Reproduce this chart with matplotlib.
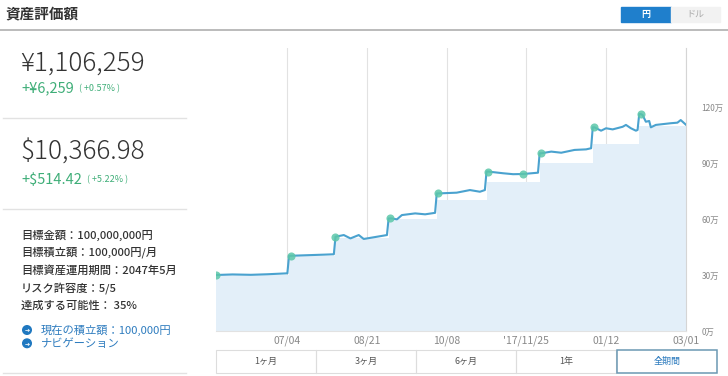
import numpy as np
import pandas as pd
import matplotlib
matplotlib.use("Agg")
import matplotlib.pyplot as plt
import matplotlib.dates as mdates
from matplotlib.patches import Rectangle, Circle

plt.rcParams['font.family'] = ['Noto Sans CJK JP', 'DejaVu Sans']

# valuation line (万円)
line_dates = ['2017-05-22', '2017-06-01', '2017-06-12', '2017-06-22', '2017-07-04',
              '2017-07-05', '2017-07-06', '2017-07-16', '2017-07-26', '2017-08-01',
              '2017-08-02', '2017-08-07', '2017-08-11', '2017-08-16', '2017-08-19',
              '2017-08-25', '2017-09-02', '2017-09-03', '2017-09-05', '2017-09-08',
              '2017-09-11', '2017-09-19', '2017-09-25', '2017-10-01', '2017-10-02',
              '2017-10-03', '2017-10-14', '2017-10-22', '2017-10-28', '2017-10-31',
              '2017-11-01', '2017-11-02', '2017-11-11', '2017-11-17', '2017-11-23',
              '2017-12-02', '2017-12-03', '2017-12-04', '2017-12-10', '2017-12-16',
              '2017-12-24', '2017-12-31', '2018-01-03', '2018-01-04', '2018-01-05',
              '2018-01-09', '2018-01-12', '2018-01-16', '2018-01-22', '2018-01-24',
              '2018-01-27', '2018-01-30', '2018-01-31', '2018-02-01', '2018-02-02',
              '2018-02-03', '2018-02-05', '2018-02-07', '2018-02-08', '2018-02-11',
              '2018-02-16', '2018-02-20', '2018-02-24', '2018-02-26', '2018-03-01']
line_values = [30.0, 30.3, 30.1, 30.4, 30.9,
               40.3, 40.3, 40.6, 40.9, 41.1,
               50.5, 51.4, 49.6, 51.4, 49.3,
               50.2, 51.4, 60.3, 60.3, 59.8,
               62.1, 63.0, 62.5, 63.3, 73.7,
               73.7, 74.1, 75.5, 74.6, 75.5,
               85.4, 85.4, 84.5, 84.0, 84.1,
               84.8, 95.2, 95.2, 96.1, 95.5,
               97.0, 97.3, 97.9, 109.1, 109.1,
               107.3, 108.6, 108.0, 109.4, 110.4,
               108.6, 107.3, 107.7, 116.2, 116.2,
               115.7, 112.1, 112.5, 109.1, 110.4,
               110.9, 111.3, 111.6, 113.0, 110.6]

# cumulative contributions (万円)
step_dates = ['2017-05-22', '2017-07-05', '2017-08-02', '2017-09-03', '2017-10-02',
              '2017-11-01', '2017-12-03', '2018-01-04', '2018-02-01', '2018-03-01']
step_values = [30, 40, 50, 60, 70, 80, 90, 100, 110, 110]

# event markers
mark_dates = ['2017-05-22', '2017-07-06', '2017-08-02', '2017-09-04', '2017-10-03',
              '2017-11-02', '2017-11-23', '2017-12-04', '2018-01-05', '2018-02-02']
mark_values = [30.0, 40.3, 50.5, 60.3, 73.7, 85.4, 84.1, 95.2, 109.1, 116.2]

tick_dates = ['2017-07-04', '2017-08-21', '2017-10-08', '2017-11-25', '2018-01-12', '2018-03-01']
tick_labels = ['07/04', '08/21', '10/08', "'17/11/25", '01/12', '03/01']
ytick_values = [0, 30, 60, 90, 120]
ytick_labels = ['0万', '30万', '60万', '90万', '120万']

info_lines = ['目標金額：100,000,000円', '目標積立額：100,000円/月',
              '目標資産運用期間：2047年5月', 'リスク許容度：5/5', '達成する可能性： 35%']
link_lines = ['現在の積立額：100,000円', 'ナビゲーション']
period_buttons = ['1ヶ月', '3ヶ月', '6ヶ月', '1年', '全期間']

W, H = 728, 376
fig = plt.figure(figsize=(W / 100, H / 100), dpi=100)

# overlay for the page elements, pixel coordinates
ui = fig.add_axes([0, 0, 1, 1])
ui.set_xlim(0, W)
ui.set_ylim(H, 0)
ui.axis('off')

dark = '#333333'
green = '#3fae78'
ui.text(5, 13, '資産評価額', fontsize=10.5, fontweight='bold', color=dark, va='center')
ui.plot([0, W], [29.7, 29.7], color='#b5b5b5', lw=1.3)

ui.add_patch(Rectangle((621, 6.5), 50, 15.5, color='#1f7fcc'))
ui.add_patch(Rectangle((671, 6.5), 49, 15.5, color='#f2f2f2'))
ui.text(646, 14.3, '円', color='white', fontsize=6.5, fontweight='bold', ha='center', va='center')
ui.text(695.5, 14.3, 'ドル', color='#aaaaaa', fontsize=6.5, ha='center', va='center')

ui.text(20, 63, '¥1,106,259', fontsize=18.8, color=dark, va='center', fontweight='light')
ui.text(21, 88.5, '+¥6,259', fontsize=10.5, color=green, va='center')
ui.text(79, 89, '( +0.57% )', fontsize=6.5, color=green, va='center')
ui.plot([3, 186], [118.3, 118.3], color='#e2e2e2', lw=1)

ui.text(20, 152, '$10,366.98', fontsize=18.8, color=dark, va='center', fontweight='light')
ui.text(21, 179.5, '+$514.42', fontsize=10.5, color=green, va='center')
ui.text(87, 180, '( +5.22% )', fontsize=6.5, color=green, va='center')
ui.plot([3, 186], [208.5, 208.5], color='#e2e2e2', lw=1)

for i, s in enumerate(info_lines):
    ui.text(21, 235 + i * 17.6, s, fontsize=8.1, color=dark, va='center', fontweight='medium')
for i, s in enumerate(link_lines):
    y = 330 + i * 13.3
    ui.add_patch(Circle((27, y), 4.3, color='#1f78c0'))
    ui.text(27.3, y, '➔', fontsize=4.5, color='white', ha='center', va='center',
            family='DejaVu Sans', fontweight='bold')
    ui.text(40.5, y, s, fontsize=8.1, color='#2e7cbf', va='center')
ui.plot([3, 186], [373, 373], color='#e2e2e2', lw=1)

bx = [216, 316, 416, 516, 617]
for i, s in enumerate(period_buttons):
    sel = i == len(period_buttons) - 1
    ui.add_patch(Rectangle((bx[i], 349.5), 100, 23.5, fill=False,
                           ec='#6b98b3' if sel else '#dddddd', lw=1.1 if sel else 0.8))
    ui.text(bx[i] + 50, 361.5, s, fontsize=6.5, color='#2e7cbf' if sel else '#555555',
            ha='center', va='center')

# main chart
ax = fig.add_axes([216 / W, (H - 331) / H, (685.7 - 216) / W, (331 - 48) / H])
ld = pd.to_datetime(line_dates)
sd = pd.to_datetime(step_dates)
md = pd.to_datetime(mark_dates)
td = pd.to_datetime(tick_dates)

ax.fill_between(sd, step_values, step='post', color='#e3eff9', lw=0, zorder=1)
ax.plot(ld, line_values, color='#4aa2cf', lw=1.5, zorder=3)
ax.scatter(md, mark_values, s=34, color='#5cc7a9', alpha=0.85, lw=0, zorder=4)

ax.set_xlim(pd.Timestamp('2017-05-22'), pd.Timestamp('2018-03-01'))
ax.set_ylim(0, 151.6)
ax.set_xticks(td)
ax.set_xticklabels(tick_labels)
ax.set_yticks(ytick_values)
ax.set_yticklabels(ytick_labels)
ax.yaxis.tick_right()
ax.tick_params(axis='x', length=0, pad=3, labelsize=7.5, labelcolor='#888888')
ax.tick_params(axis='y', length=0, pad=11.5, labelsize=6, labelcolor='#888888')
for lab in ax.get_yticklabels():
    lab.set_horizontalalignment('left')
ax.grid(axis='x', color='#e2e2e2', lw=0.8)
ax.set_axisbelow(True)
for side in ['top', 'left']:
    ax.spines[side].set_visible(False)
ax.spines['right'].set_color('#d5d5d5')
ax.spines['bottom'].set_color('#e2e2e2')
ax.patch.set_alpha(0)

fig.savefig('out.png', dpi=100)
